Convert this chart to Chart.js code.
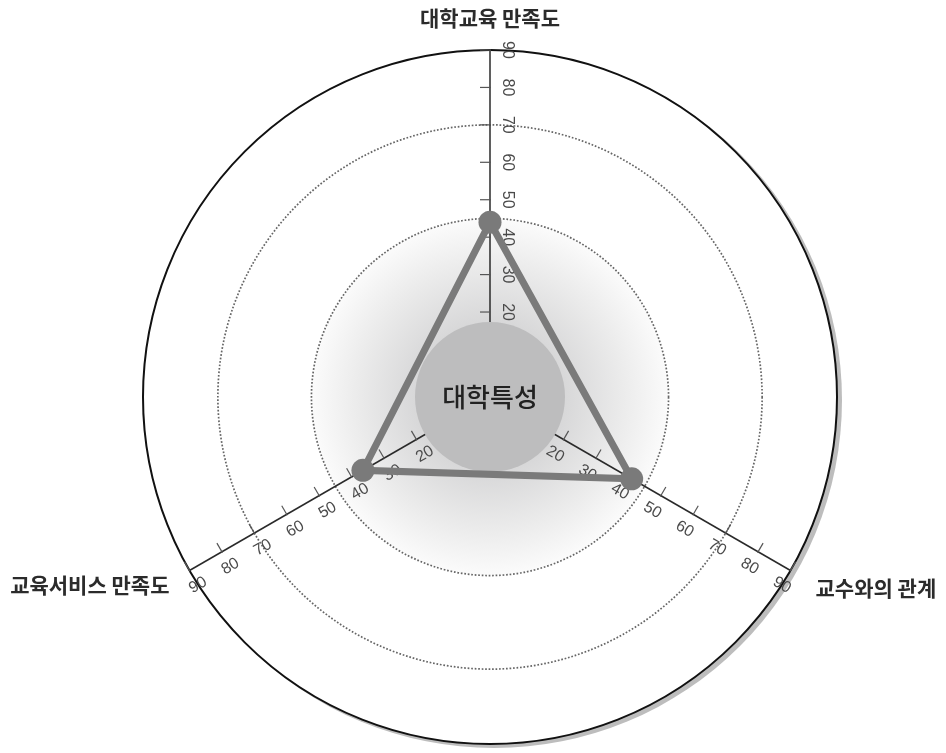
<!DOCTYPE html>
<html lang="ko">
<head>
<meta charset="utf-8">
<title>대학특성</title>
<script src="https://cdn.jsdelivr.net/npm/chart.js@4.4.1/dist/chart.umd.min.js"></script>
<style>
    html, body { margin: 0; padding: 0; background: #fff; }
    #wrap { position: relative; width: 946px; height: 753px; }
</style>
</head>
<body>
<div id="wrap"><canvas id="radar"></canvas></div>
<script>
const axisLabels = ["대학교육 만족도", "교수와의 관계", "교육서비스 만족도"];
const scores = [44, 41, 36.5];
const tickValues = [20, 30, 40, 50, 60, 70, 80, 90];
const ringValues = [45, 70, 90];
const centerLabel = "대학특성";

const KR = "'Noto Sans CJK KR', 'Noto Sans', sans-serif";

// circle background, center disc, axis ticks and titles
const decorations = {
    id: "decorations",
    beforeDraw(chart) {
        const s = chart.scales.r;
        const ctx = chart.ctx;
        const R = s.drawingArea, cx = s.xCenter, cy = s.yCenter;
        const inner = s.getDistanceFromCenterForValue(ringValues[0]);
        ctx.save();
        ctx.fillStyle = "#bdbdbd";
        ctx.beginPath(); ctx.arc(cx + 4, cy + 3, R + 1, 0, Math.PI * 2); ctx.fill();
        ctx.fillStyle = "#fff";
        ctx.beginPath(); ctx.arc(cx, cy, R, 0, Math.PI * 2); ctx.fill();
        const g = ctx.createRadialGradient(cx, cy, 70, cx, cy, inner);
        g.addColorStop(0, "#d6d6d7");
        g.addColorStop(0.6, "#ececec");
        g.addColorStop(1, "#fbfbfb");
        ctx.fillStyle = g;
        ctx.beginPath(); ctx.arc(cx, cy, inner, 0, Math.PI * 2); ctx.fill();
        ctx.restore();
    },
    beforeDatasetsDraw(chart) {
        const s = chart.scales.r;
        const ctx = chart.ctx;
        ctx.save();
        ctx.fillStyle = "#bdbdbe";
        ctx.beginPath(); ctx.arc(s.xCenter, s.yCenter, 75, 0, Math.PI * 2); ctx.fill();

        ctx.strokeStyle = "#555";
        ctx.lineWidth = 1.2;
        ctx.fillStyle = "#4a4a4a";
        ctx.font = "16px 'Liberation Sans', Arial, sans-serif";
        ctx.textAlign = "center";
        ctx.textBaseline = "middle";
        axisLabels.forEach((label, i) => {
            const a = s.getIndexAngle(i) - Math.PI / 2;
            const dx = Math.cos(a), dy = Math.sin(a);
            let nx = -dy, ny = dx;
            if (ny < -0.01) { nx = -nx; ny = -ny; }
            let rot = Math.atan2(dy, dx);
            if (rot > Math.PI / 2 + 0.01) rot -= Math.PI;
            if (rot <= -Math.PI / 2 + 0.01) rot += Math.PI;
            tickValues.forEach((v) => {
                const p = s.getPointPositionForValue(i, v);
                ctx.beginPath();
                ctx.moveTo(p.x + nx * 1, p.y + ny * 1);
                ctx.lineTo(p.x - nx * 10, p.y - ny * 10);
                ctx.stroke();
                ctx.save();
                ctx.translate(p.x + nx * 17, p.y + ny * 17);
                ctx.rotate(rot);
                ctx.fillText(String(v), 0, 0);
                ctx.restore();
            });
        });

        ctx.fillStyle = "#2b2b2b";
        ctx.font = "600 21px " + KR;
        const titlePlace = [
            { align: "center", dx: 0, dy: -32 },
            { align: "left", dx: 25, dy: 18 },
            { align: "right", dx: -20, dy: 15 }
        ];
        axisLabels.forEach((label, i) => {
            const p = s.getPointPositionForValue(i, s.max);
            ctx.textAlign = titlePlace[i].align;
            ctx.fillText(label, p.x + titlePlace[i].dx, p.y + titlePlace[i].dy);
        });
        ctx.restore();
    },
    afterDatasetsDraw(chart) {
        const s = chart.scales.r;
        const ctx = chart.ctx;
        ctx.save();
        ctx.fillStyle = "#222";
        ctx.font = "500 26px " + KR;
        ctx.textAlign = "center";
        ctx.textBaseline = "middle";
        ctx.fillText(centerLabel, s.xCenter, s.yCenter);
        ctx.restore();
    }
};

new Chart(document.getElementById("radar"), {
    type: "radar",
    data: {
        labels: axisLabels,
        datasets: [{
            data: scores,
            borderColor: "#7a7a7a",
            borderWidth: 7,
            backgroundColor: "transparent",
            fill: false,
            pointRadius: 11.5,
            pointHoverRadius: 11.5,
            pointBackgroundColor: "#7a7a7a",
            pointBorderWidth: 0
        }]
    },
    options: {
        responsive: true,
        maintainAspectRatio: false,
        animation: false,
        layout: { padding: { top: 50, bottom: 9, left: 143, right: 109 } },
        plugins: { legend: { display: false }, tooltip: { enabled: false } },
        scales: {
            r: {
                min: -2.7,
                max: 90,
                afterBuildTicks: (scale) => { scale.ticks = ringValues.map((value) => ({ value })); },
                ticks: { display: false },
                pointLabels: { display: false },
                grid: {
                    circular: true,
                    color: (c) => c.tick && c.tick.value === 90 ? "#111" : "#666",
                    lineWidth: (c) => c.tick && c.tick.value === 90 ? 2 : 1.7
                },
                border: { dash: (c) => c.tick && c.tick.value === 90 ? [] : [1.7, 1.8] },
                angleLines: { color: "#2a2a2a", lineWidth: 1.5 }
            }
        }
    },
    plugins: [decorations]
});
</script>
</body>
</html>
